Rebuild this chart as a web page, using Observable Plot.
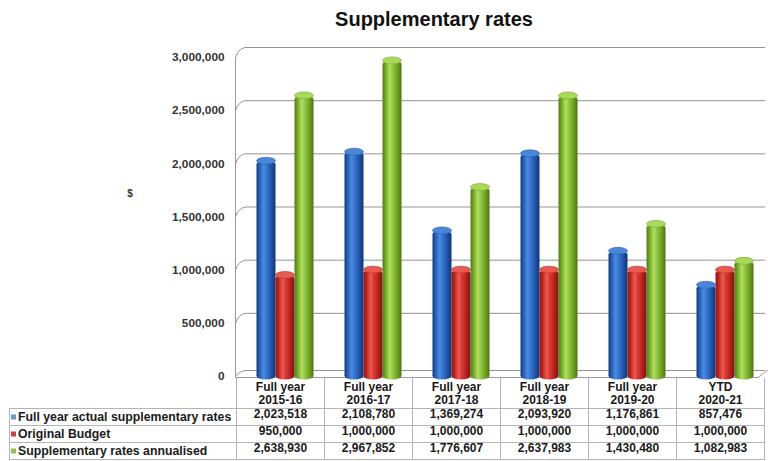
<!DOCTYPE html>
<html><head><meta charset="utf-8">
<script src="https://cdn.jsdelivr.net/npm/d3@7"></script>
<script src="https://cdn.jsdelivr.net/npm/@observablehq/plot@0.6"></script>
<style>
body{margin:0;background:#fff;font-family:"Liberation Sans",Arial,sans-serif;}
#title{height:36px;position:relative;}
#title span{position:absolute;left:434px;top:8px;transform:translateX(-50%);font-weight:bold;font-size:20px;color:#111;white-space:nowrap;}
#chart svg{display:block;overflow:visible;}
</style></head><body>
<div id="title"><span>Supplementary rates</span></div>
<div id="chart"></div>
<script>
const categories = ["2015-16","2016-17","2017-18","2018-19","2019-20","2020-21"];
const categoryLabels = ["Full year\n2015-16","Full year\n2016-17","Full year\n2017-18","Full year\n2018-19","Full year\n2019-20","YTD\n2020-21"];
const series = ["Full year actual supplementary rates","Original Budget","Supplementary rates annualised"];
const actual = [2023518,2108780,1369274,2093920,1176861,857476];
const budget = [950000,1000000,1000000,1000000,1000000,1000000];
const annualised = [2638930,2967852,1776607,2637983,1430480,1082983];
const yTicks = [0,500000,1000000,1500000,2000000,2500000,3000000];

const seriesValues = [actual, budget, annualised];
const data = categories.flatMap((c,i)=>series.map((s,k)=>({cat:c, series:s, k, value:seriesValues[k][i]})));

const grads = [
  {id:"gBlue", stops:["#143a7d","#2a62bb","#4d8be0","#3373d0","#1d4d9c","#123674"], cap:"#4a86da", capStroke:"#2a5fb0", key:"#7096c8"},
  {id:"gRed", stops:["#8a1414","#c22924","#ea5b50","#d8372e","#ab1e1b","#7a1111"], cap:"#e65a4f", capStroke:"#b52a25", key:"#c8424a"},
  {id:"gGreen", stops:["#527c18","#79ac2b","#b2df62","#91c642","#6c9c21","#4b7214"], cap:"#a9d95a", capStroke:"#7aa830", key:"#9cbc5a"}
];
const fmt = d3.format(",");
const BAR_DX = 4.5;

const marks = [];
series.forEach((s,k)=>{
  const d = data.filter(r=>r.k===k);
  marks.push(Plot.barY(d, {fx:"cat", x:"series", y1:0, y2:"value", fill:`url(#${grads[k].id})`, rx:10, ry:3.5, dx:BAR_DX, insetBottom:-3.5}));
  marks.push(Plot.barY(d, {fx:"cat", x:"series", y1:"value", y2:"value", insetTop:-3.5, insetBottom:-3.5, rx:10, ry:3.5, fill:grads[k].cap, stroke:grads[k].capStroke, strokeWidth:0.6, dx:BAR_DX}));
  marks.push(Plot.text(d, {fx:"cat", text:r=>fmt(r.value), frameAnchor:"bottom", dy:41+17*k, fill:"#1a1a1a", fontSize:12}));
});
marks.push(Plot.text(categories, {fx:d=>d, text:(d,i)=>categoryLabels[i], frameAnchor:"bottom", lineAnchor:"middle", dy:17, lineHeight:1.05, fill:"#1a1a1a", fontSize:12}));

const plot = Plot.plot({
  width:768, height:425, marginTop:21, marginBottom:85, marginLeft:235, marginRight:3,
  style:{fontFamily:"'Liberation Sans', Arial, sans-serif", fontSize:"11.8px", fontWeight:"bold", color:"#333", background:"transparent", overflow:"visible"},
  fx:{domain:categories, padding:0, axis:null, label:null},
  x:{domain:series, paddingInner:0, paddingOuter:0.75, axis:null},
  y:{domain:[0,3000000], ticks:yTicks, tickFormat:d3.format(","), tickSize:0, tickPadding:12, label:null},
  marks
});
document.getElementById("chart").appendChild(plot);

// decorations drawn with the plot's own scales
const svg = d3.select(plot);
const defs = svg.insert("defs", ":first-child");
grads.forEach(g=>{
  const lg = defs.append("linearGradient").attr("id", g.id).attr("x1",0).attr("x2",1).attr("y1",0).attr("y2",0);
  const offs = [0,0.18,0.38,0.55,0.82,1];
  g.stops.forEach((c,i)=>lg.append("stop").attr("offset",offs[i]).attr("stop-color",c));
});
const ys = plot.scale("y");
const fxs = plot.scale("fx");
const left = 235, right = 765;
const deco = svg.insert("g", "g").attr("fill","none").attr("stroke","#959595").attr("stroke-width",1);
yTicks.forEach(v=>{
  const y = ys.apply(v);
  const back = v === 0 ? y - 6 : y - 10;
  deco.append("path").attr("d", `M${left+0.5},${y+0.5} Q${left+3},${back+2} ${left+10},${back+0.5} L${right},${back+0.5}`);
});
// left wall edge and floor
const y0 = ys.apply(0), yTop = ys.apply(3000000);
deco.append("path").attr("d", `M${left+0.5},${yTop+0.5} L${left+0.5},${y0+1.5} L${right-7},${y0+1.5} L${right+3},${y0-6}`).attr("stroke","#999");

// table grid
const tg = svg.append("g").attr("stroke","#b4b4b4").attr("stroke-width",1).attr("fill","none");
const rowLines = [372,389,406,423];
rowLines.forEach(y=>tg.append("line").attr("x1",9).attr("x2",right).attr("y1",y+0.5).attr("y2",y+0.5));
tg.append("line").attr("x1",9.5).attr("x2",9.5).attr("y1",372).attr("y2",423.5);
const bounds = categories.map(c=>fxs.apply(c)).concat([fxs.apply(categories[categories.length-1])+fxs.bandwidth]);
bounds.forEach(x=>tg.append("line").attr("x1",x+0.5).attr("x2",x+0.5).attr("y1",y0+2).attr("y2",423.5));

// legend (row labels)
const lg = svg.append("g").attr("font-family","'Liberation Sans', Arial, sans-serif").attr("font-weight","bold").attr("font-size","12.3px").attr("fill","#1a1a1a").attr("text-anchor","start");
series.forEach((s,k)=>{
  const cy = 381 + 17*k;
  lg.append("rect").attr("x",11).attr("y",cy-2.5).attr("width",5).attr("height",5).attr("fill",grads[k].key);
  lg.append("text").attr("x",18).attr("y",cy).attr("dy","0.35em").attr("text-anchor","start").text(s);
});
// y axis label
svg.append("text").attr("x",130).attr("y",157).attr("dy","0.35em").attr("text-anchor","middle")
  .attr("font-family","'Liberation Sans', Arial, sans-serif").attr("font-weight","bold").attr("font-size","10px").attr("fill","#333").text("$");
</script>
</body></html>
